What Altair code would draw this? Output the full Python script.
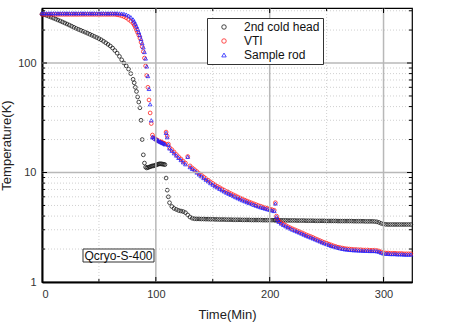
import altair as alt
import pandas as pd

# ---- sampling times (min) ----
times_a = list(range(0, 81, 2))        # 0..80 step 2
times_b = list(range(81, 113))         # 81..112 step 1
times_c = list(range(114, 205, 2))     # 114..204 step 2
times_d = [205, 206, 207, 208]
times_e = list(range(210, 325, 2))     # 210..324 step 2
times = times_a + times_b + times_c + times_d + times_e

# ---- 2nd cold head (K) ----
head_a = [280, 276, 272, 267, 262, 257, 252, 247, 242, 237, 232, 227, 222, 217, 212, 207, 203,
          199, 195, 191, 187, 183, 179, 175, 171, 167, 163, 158, 153, 148, 143, 137, 130, 123,
          115, 107, 100, 94, 88, 80, 71]
head_b = [66, 60, 55, 49, 44, 39, 30, 20, 14.5, 12.2, 11.2, 11.0, 11.1, 11.2, 11.3, 11.4, 11.5,
          11.5, 11.6, 11.7, 11.8, 11.9, 12.0, 12.0, 12.0, 11.9, 11.9, 11.8, 8.9, 6.9, 6.0, 5.3]
head_c = [4.9, 4.7, 4.6, 4.5, 4.45, 4.4, 4.3, 4.1, 3.92, 3.82, 3.78, 3.77, 3.77, 3.76, 3.76,
          3.75, 3.75, 3.74, 3.74, 3.73, 3.73, 3.72, 3.72, 3.72, 3.71, 3.71, 3.71, 3.7, 3.7, 3.7,
          3.7, 3.69, 3.69, 3.69, 3.69, 3.68, 3.68, 3.68, 3.68, 3.68, 3.67, 3.67, 3.67, 3.67,
          3.67, 3.67]
head_d = [3.67, 3.67, 3.66, 3.66]
head_e = [3.66, 3.66, 3.66, 3.65, 3.65, 3.65, 3.65, 3.64, 3.64, 3.64,
          3.64, 3.63, 3.63, 3.63, 3.63, 3.62, 3.62, 3.62, 3.62, 3.62,
          3.61, 3.61, 3.61, 3.61, 3.61, 3.6, 3.6, 3.6, 3.6, 3.6,
          3.6, 3.6, 3.59, 3.59, 3.59, 3.59, 3.59, 3.58, 3.58, 3.58,
          3.58, 3.57, 3.55, 3.5, 3.43, 3.38, 3.36, 3.35, 3.35, 3.35,
          3.35, 3.35, 3.35, 3.35, 3.35, 3.35, 3.35, 3.35]
head = head_a + head_b + head_c + head_d + head_e

# ---- VTI (K) ----
vti_a = [278, 278, 278, 278, 278, 278, 278, 278, 278, 278, 278, 278, 278, 278, 278, 278, 278,
         278, 278, 278, 278, 278, 278, 278, 278, 278, 278, 278, 278, 278, 278, 278, 278,
         276, 274, 270, 265, 259, 250, 241, 231]
vti_b = [222, 211, 200, 190, 180, 169, 155, 141, 127, 111, 94, 77, 60, 46, 35, 28, 22, 20.8,
         20.4, 20.1, 19.8, 19.5, 19.3, 19.1, 18.9, 18.7, 18.5, 18.3, 23.4, 21.5, 18.2, 16.9]
vti_c = [16.2, 15.4, 14.6, 13.9, 13.3, 12.7, 12.2, 14.0, 11.5, 11.0, 10.6, 10.2, 9.8, 9.45, 9.1,
         8.8, 8.5, 8.2, 7.95, 7.7, 7.48, 7.28, 7.08, 6.9, 6.72, 6.56, 6.41, 6.26, 6.12, 5.98,
         5.85, 5.72, 5.6, 5.49, 5.38, 5.28, 5.18, 5.09, 5.0, 4.92, 4.84, 4.77, 4.7, 4.64, 4.58,
         4.52]
vti_d = [5.3, 4.0, 3.75, 3.6]
vti_e = [3.48, 3.38, 3.29, 3.2, 3.13, 3.06, 3.0, 2.94, 2.88, 2.82,
         2.76, 2.7, 2.65, 2.6, 2.55, 2.49, 2.44, 2.39, 2.34, 2.3,
         2.26, 2.22, 2.18, 2.14, 2.11, 2.08, 2.06, 2.04, 2.02, 2.01,
         2.0, 1.99, 1.98, 1.98, 1.97, 1.97, 1.96, 1.96, 1.96, 1.95,
         1.95, 1.95, 1.94, 1.92, 1.88, 1.85, 1.84, 1.84, 1.83, 1.83,
         1.83, 1.82, 1.82, 1.82, 1.81, 1.81, 1.81, 1.81]
vti = vti_a + vti_b + vti_c + vti_d + vti_e

# ---- Sample rod (K) ----
rod_a = [285, 285, 285, 285, 285, 285, 285, 285, 285, 285, 285, 285, 285, 285, 285, 285, 285,
         285, 285, 285, 285, 285, 285, 285, 285, 285, 285, 285, 285, 285, 285, 285, 285, 285,
         284, 283, 281, 277, 271, 262, 250]
rod_b = [240, 229, 217, 205, 192, 180, 166, 152, 139, 126, 110, 93, 76, 58, 42, 30, 21.2, 20.8,
         20.5, 20.2, 19.9, 19.6, 19.3, 19.1, 18.8, 18.6, 18.4, 18.1, 23.0, 21.0, 17.9, 16.6]
rod_c = [15.8, 15.0, 14.3, 13.6, 13.0, 12.4, 11.9, 13.9, 11.2, 10.8, 10.4, 10.0, 9.6, 9.25, 8.9,
         8.6, 8.3, 8.0, 7.75, 7.5, 7.3, 7.1, 6.9, 6.72, 6.55, 6.4, 6.25, 6.1, 5.96, 5.83, 5.7,
         5.58, 5.47, 5.36, 5.26, 5.16, 5.07, 4.98, 4.9, 4.82, 4.75, 4.68, 4.62, 4.56, 4.5, 4.45]
rod_d = [5.2, 3.95, 3.7, 3.55]
rod_e = [3.42, 3.32, 3.23, 3.15, 3.08, 3.01, 2.95, 2.89, 2.83, 2.77,
         2.71, 2.65, 2.6, 2.55, 2.5, 2.45, 2.4, 2.35, 2.3, 2.26,
         2.22, 2.18, 2.14, 2.11, 2.08, 2.05, 2.03, 2.01, 1.99, 1.98,
         1.97, 1.96, 1.95, 1.95, 1.94, 1.94, 1.93, 1.93, 1.93, 1.92,
         1.92, 1.92, 1.91, 1.89, 1.85, 1.82, 1.81, 1.81, 1.8, 1.8,
         1.8, 1.79, 1.79, 1.79, 1.78, 1.78, 1.78, 1.78]
rod = rod_a + rod_b + rod_c + rod_d + rod_e

series_names = ["2nd cold head", "VTI", "Sample rod"]
series_colors = ["#1a1a1a", "#ff2020", "#2020ff"]
series_shapes = ["circle", "circle", "triangle-up"]

x_labels = [0, 100, 200, 300]
x_minor = [50, 150, 250]
x_major = [100, 200, 300]
y_labels = [1, 10, 100]
y_major = [10, 100]
y_minor = [2, 3, 4, 5, 6, 7, 8, 9, 20, 30, 40, 50, 60, 70, 80, 90, 200, 300]
annotation = ["Qcryo-S-400"]

rows = []
for name, vals in zip(series_names, [head, vti, rod]):
    for t, v in zip(times, vals):
        rows.append({"series": name, "t": t, "T": v})
df = pd.DataFrame(rows)

W, H = 370, 274
xs = alt.Scale(domain=[0, 325], nice=False, zero=False)
ys = alt.Scale(type="log", domain=[1, 318], nice=False)
x_axis = alt.Axis(values=x_labels, title="Time(Min)", grid=False, ticks=False,
                  labelPadding=6, titlePadding=9, format="d")
y_axis = alt.Axis(values=y_labels, title="Temperature(K)", grid=False, ticks=False,
                  labelPadding=6, titlePadding=4, format="d")

def XV():
    return alt.X("v:Q", scale=xs, axis=x_axis, title="Time(Min)")

def YV():
    return alt.Y("v:Q", scale=ys, axis=y_axis, title="Temperature(K)")

def vals_chart(vals):
    return alt.Chart(pd.DataFrame({"v": vals}))

grid_x_minor = vals_chart(x_minor).mark_rule(color="#c4c4c4", strokeWidth=0.8, strokeDash=[1, 2]).encode(x=XV())
grid_y_minor = vals_chart(y_minor).mark_rule(color="#c4c4c4", strokeWidth=0.8, strokeDash=[1, 2]).encode(y=YV())
grid_x_major = vals_chart(x_major).mark_rule(color="#b8b8b8", strokeWidth=1.5).encode(x=XV())
grid_y_major = vals_chart(y_major).mark_rule(color="#b8b8b8", strokeWidth=1.5).encode(y=YV())

points = alt.Chart(df).mark_point(filled=False, size=14, strokeWidth=0.8, opacity=1).encode(
    x=alt.X("t:Q", scale=xs, axis=x_axis, title="Time(Min)"),
    y=alt.Y("T:Q", scale=ys, axis=y_axis, title="Temperature(K)"),
    color=alt.Color("series:N", scale=alt.Scale(domain=series_names, range=series_colors),
                    legend=alt.Legend(title=None)),
    shape=alt.Shape("series:N", scale=alt.Scale(domain=series_names, range=series_shapes),
                    legend=alt.Legend(title=None)),
)

tc = "#000"
left_major = vals_chart(y_major).mark_rule(color=tc, strokeWidth=1).encode(y=YV(), x=alt.value(0), x2=alt.value(5))
left_minor = vals_chart(y_minor).mark_rule(color=tc, strokeWidth=1).encode(y=YV(), x=alt.value(0), x2=alt.value(3))
right_major = vals_chart(y_major).mark_rule(color=tc, strokeWidth=1).encode(y=YV(), x=alt.value(W), x2=alt.value(W - 5))
right_minor = vals_chart(y_minor).mark_rule(color=tc, strokeWidth=1).encode(y=YV(), x=alt.value(W), x2=alt.value(W - 3))
bottom_major = vals_chart(x_major).mark_rule(color=tc, strokeWidth=1).encode(x=XV(), y=alt.value(H), y2=alt.value(H - 5))
bottom_minor = vals_chart(x_minor).mark_rule(color=tc, strokeWidth=1).encode(x=XV(), y=alt.value(H), y2=alt.value(H - 3))
top_major = vals_chart(x_major).mark_rule(color=tc, strokeWidth=1).encode(x=XV(), y=alt.value(0), y2=alt.value(5))
top_minor = vals_chart(x_minor).mark_rule(color=tc, strokeWidth=1).encode(x=XV(), y=alt.value(0), y2=alt.value(3))

ann_df = pd.DataFrame({"label": annotation})
ann_box = alt.Chart(ann_df).mark_rect(fill="white", stroke="#333", strokeWidth=1).encode(
    x=alt.value(41), x2=alt.value(112), y=alt.value(241), y2=alt.value(254))
ann_text = alt.Chart(ann_df).mark_text(fontSize=12, color="#111", align="center",
                                       baseline="middle").encode(
    x=alt.value(76.5), y=alt.value(248), text="label:N")

chart = alt.layer(
    points,
    grid_x_minor, grid_y_minor, grid_x_major, grid_y_major,
    left_major, left_minor, right_major, right_minor,
    bottom_major, bottom_minor, top_major, top_minor,
    ann_box, ann_text,
).properties(
    width=W, height=H,
    padding={"left": 42, "top": 8, "right": 38, "bottom": 46},
    autosize=alt.AutoSizeParams(type="none"),
    background="white",
).configure(
    font="Liberation Sans",
).configure_view(
    stroke="#000", strokeWidth=1.2,
).configure_axis(
    domainColor="#000", domainWidth=2,
    labelFontSize=11, labelColor="#333",
    titleFontSize=13, titleFontWeight="normal", titleColor="#222",
    labelFont="Liberation Sans", titleFont="Liberation Sans",
).configure_legend(
    orient="none", legendX=165, legendY=10,
    padding=3, strokeColor="#333", fillColor="white",
    labelFontSize=12, labelColor="#111", labelFont="Liberation Sans",
    symbolSize=20, symbolStrokeWidth=0.8, symbolOffset=8, labelOffset=14,
    rowPadding=2,
)

chart.save("out.html", embed_options={"renderer": "svg", "actions": False})
